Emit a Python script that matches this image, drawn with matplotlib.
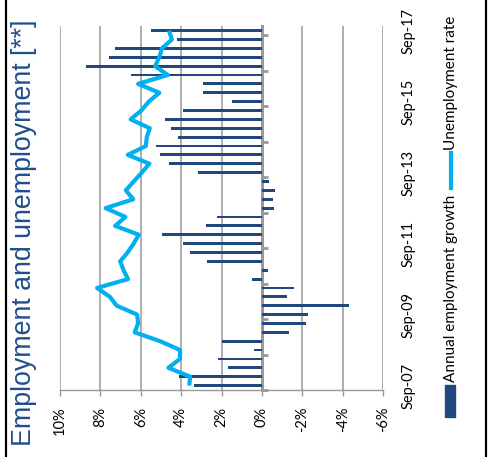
import matplotlib.pyplot as plt
from matplotlib.lines import Line2D
from matplotlib.patches import Rectangle

# Quarterly series, Sep-07 .. Sep-17 (41 quarters)
growth = [3.35, 4.09, 1.70, 2.18, 0.39, 1.98, -1.34, -2.21, -2.27, -4.34,
          -1.22, -1.59, 0.51, -0.29, 2.70, 3.54, 3.89, 4.95, 2.76, 2.21,
          -0.59, -0.53, -0.64, -0.33, 3.17, 4.61, 5.03, 5.22, 4.17, 4.52,
          4.81, 3.89, 1.49, 2.91, 2.92, 6.48, 8.72, 7.55, 7.30, 4.20, 5.48]
unemployment = [3.60, 3.55, 4.63, 4.06, 4.05, 5.04, 6.30, 6.13, 6.18, 7.19,
                7.53, 8.16, 6.63, 6.85, 7.02, 6.65, 6.35, 6.10, 7.27, 6.76,
                7.74, 6.37, 6.74, 6.35, 5.95, 5.57, 6.64, 5.75, 5.70, 5.55,
                6.50, 5.97, 5.60, 5.08, 6.13, 4.66, 5.29, 5.08, 4.95, 4.46, 4.60]
date_labels = ["Sep-07", "Sep-09", "Sep-11", "Sep-13", "Sep-15", "Sep-17"]
pct_ticks = [10, 8, 6, 4, 2, 0, -2, -4, -6]

BAR = "#1F497D"
LINE = "#00B0F0"
GRID = "#999999"
TITLE = "#1F4E8C"
FONT = "Lato"

pos = list(range(len(growth)))
year_bounds = [p - 0.5 for p in pos[::4]]

fig = plt.figure(figsize=(4.9, 4.57), dpi=100)
ax = fig.add_axes([60 / 490, 1 - 390 / 457, 323 / 490, 363.8 / 457])

ax.barh(pos, growth, height=0.32, color=BAR, zorder=2)
ax.plot(unemployment, pos, color=LINE, lw=3, zorder=3,
        solid_joinstyle="round", solid_capstyle="butt")

xmax, xmin = pct_ticks[0], pct_ticks[-1]
ax.set_xlim(xmax, xmin)
ax.set_ylim(-0.5, pos[-1] + 0.5)

ax.set_xticks(pct_ticks, labels=[f"{v}%" for v in pct_ticks],
              rotation=90, fontsize=10.5, family=FONT)
ax.xaxis.grid(True, color=GRID, lw=1.1)
ax.set_axisbelow(True)
ax.tick_params(axis="x", direction="out", length=4, width=1, color=GRID, pad=8)

ax.yaxis.tick_right()
ax.set_yticks(pos[::8], labels=date_labels, rotation=90, va="center",
              fontsize=10.5, family=FONT)
ax.tick_params(axis="y", length=0, pad=13.5)

for side in ("left", "right", "top"):
    ax.spines[side].set_visible(False)
ax.spines["bottom"].set_color(GRID)
ax.spines["bottom"].set_linewidth(1)

# category axis sits on the zero line, ticks between years
zero = ax.secondary_yaxis((xmax - 0) / (xmax - xmin))
zero.set_yticks(year_bounds, labels=[])
zero.spines["right"].set_color(GRID)
zero.spines["right"].set_linewidth(2.2)
zero.tick_params(axis="y", direction="out", length=4.5, width=2, color=GRID)

fig.text(24.5 / 490, 1 - 233 / 457, "Employment and unemployment [**]",
         rotation=90, ha="center", va="center", fontsize=19.3,
         family="Liberation Sans", color=TITLE)

# legend, laid out vertically
fig.patches.append(Rectangle((445 / 490, 1 - 417 / 457), 10 / 490, 32 / 457,
                             color=BAR, transform=fig.transFigure, figure=fig))
fig.text(451 / 490, 1 - 382 / 457, "Annual employment growth", rotation=90,
         ha="center", va="bottom", fontsize=11, family=FONT)
fig.lines.append(Line2D([451 / 490] * 2, [1 - 188 / 457, 1 - 153 / 457],
                        color=LINE, lw=3, transform=fig.transFigure))
fig.text(451 / 490, 1 - 150 / 457, "Unemployment rate", rotation=90,
         ha="center", va="bottom", fontsize=11, family=FONT)

# frame edges
for x in (6 / 490, 485.5 / 490):
    fig.lines.append(Line2D([x, x], [0, 1], color="black", lw=1.6,
                            transform=fig.transFigure))

fig.savefig("out.png", dpi=100)
